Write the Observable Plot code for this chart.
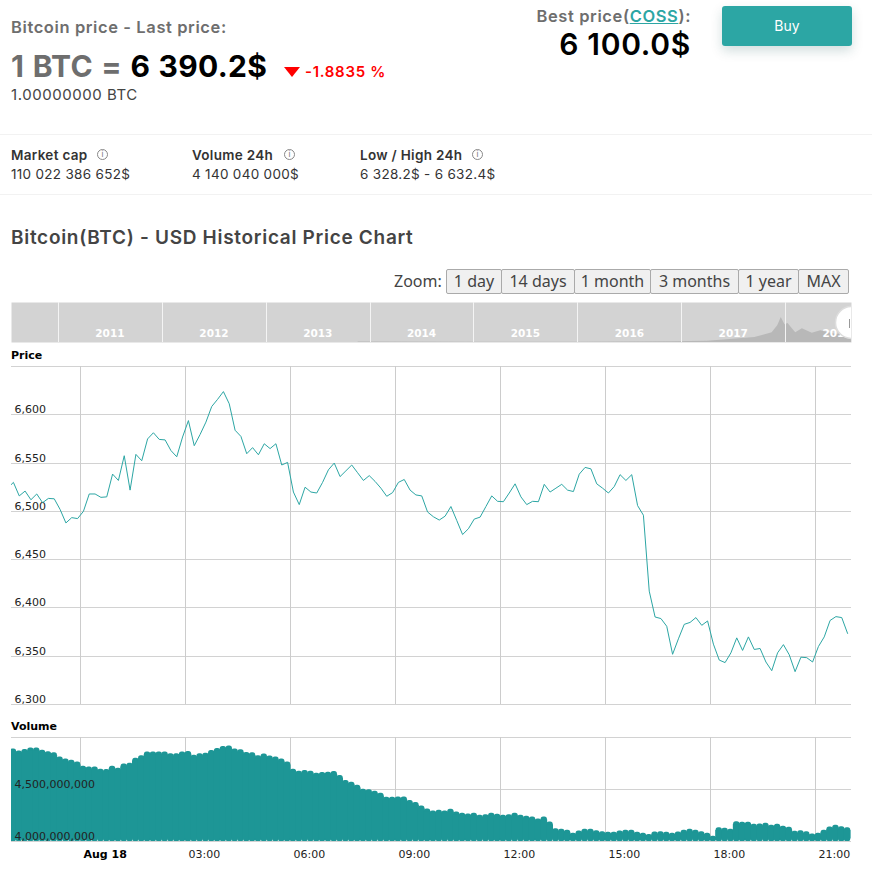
<!DOCTYPE html>
<html>
<head>
<meta charset="utf-8">
<script src="https://cdn.jsdelivr.net/npm/d3@7"></script>
<script src="https://cdn.jsdelivr.net/npm/@observablehq/plot@0.6"></script>
<style>
html,body{margin:0;padding:0;background:#fff;}
body{position:relative;width:872px;height:873px;overflow:hidden;font-family:Inter,"Noto Sans",sans-serif;}
.t{position:absolute;white-space:nowrap;line-height:1;}
.line{position:absolute;left:0;width:872px;height:1px;background:#f2f2f2;}
.lab{font-size:13.5px;font-weight:600;color:#333;letter-spacing:.3px;}
.val{font-size:13.5px;color:#333;letter-spacing:.3px;}
.info{position:absolute;width:9px;height:9px;border:1px solid #888;border-radius:50%;color:#777;font-size:8px;line-height:9px;text-align:center;}
.btn{position:absolute;top:269px;height:23px;box-sizing:content-box;border:1px solid #aaa;border-radius:2px;background:#f0f0f0;color:#444;font:16px/23px "Noto Sans",sans-serif;text-align:center;}
.plot{position:absolute;left:0;}
.tag{position:absolute;font:bold 11px "DejaVu Sans",sans-serif;color:#000;line-height:1;}
</style>
</head>
<body>
<div class="t" style="left:11px;top:19px;font-size:16.5px;font-weight:600;color:#6e6e6e;letter-spacing:.6px;">Bitcoin price - Last price:</div>
<div class="t" style="left:11px;top:51px;font-size:30px;font-weight:700;color:#6e6e6e;letter-spacing:.3px;word-spacing:1px;">1 BTC = <span style="color:#000">6 390.2$</span></div>
<div style="position:absolute;left:284px;top:67px;width:0;height:0;border-left:8px solid transparent;border-right:8px solid transparent;border-top:10px solid #f00;"></div>
<div class="t" style="left:305px;top:64px;font-size:15px;font-weight:600;color:#f00;letter-spacing:.7px;">-1.8835 %</div>
<div class="t" style="left:11px;top:87px;font-size:15px;color:#444;letter-spacing:.55px;">1.00000000 BTC</div>

<div class="t" style="right:181px;top:8px;font-size:16.5px;font-weight:600;color:#6e6e6e;letter-spacing:.6px;">Best price(<span style="color:#2ca6a4;text-decoration:underline">COSS</span>):</div>
<div class="t" style="right:181px;top:29px;font-size:30px;font-weight:600;color:#000;letter-spacing:.7px;">6 100.0$</div>
<div style="position:absolute;left:722px;top:6px;width:130px;height:40px;background:#2ca6a4;border-radius:3px;box-shadow:0 5px 12px rgba(0,70,70,.18);color:#fff;font-size:14px;line-height:40px;text-align:center;">Buy</div>

<div class="line" style="top:134px;"></div>
<div class="line" style="top:194px;"></div>
<div class="t lab" style="left:11px;top:149px;">Market cap</div><div class="info" style="left:97px;top:149px;">i</div>
<div class="t val" style="left:11px;top:168px;">110 022 386 652$</div>
<div class="t lab" style="left:192px;top:149px;">Volume 24h</div><div class="info" style="left:284px;top:149px;">i</div>
<div class="t val" style="left:192px;top:168px;">4 140 040 000$</div>
<div class="t lab" style="left:360px;top:149px;">Low / High 24h</div><div class="info" style="left:472px;top:149px;">i</div>
<div class="t val" style="left:360px;top:168px;">6 328.2$ - 6 632.4$</div>

<div class="t" style="left:11px;top:228px;font-size:19px;font-weight:600;color:#444;letter-spacing:.7px;">Bitcoin(BTC) - USD Historical Price Chart</div>

<div class="t" style="left:394px;top:273px;font:16px/1 'Noto Sans',sans-serif;color:#444;">Zoom:</div>
<div id="zoomButtons"></div>

<div id="nav" class="plot" style="top:302px"></div>
<div style="position:absolute;left:849px;top:319px;width:1px;height:9px;background:#999;"></div>
<div class="tag" style="left:11px;top:350px;">Price</div>
<div id="price" class="plot" style="top:360px"></div>
<div class="tag" style="left:11px;top:721px;">Volume</div>
<div id="volume" class="plot" style="top:730px"></div>

<script>
const zoomLabels = ["1 day","14 days","1 month","3 months","1 year","MAX"];
const zoomEdges = [446,501,574,650,738,798,848];

// Ten-minute samples, first one at 21:55 on 17 Aug 2018
const seriesStart = Date.UTC(2018,7,17,21,55);
const sampleMinutes = 10;

const priceValues = [
6524,6530,6516,6521,6512,6518,6509,6513.4,6513,6502,6488,6493.5,6492.5,6500,6518,6518,6514.5,6515,6538.6,6532,
6557.6,6522,6559,6552.4,6575,6581.4,6574.5,6574,6563,6556.5,6577,6594,6568,6579.6,6592.4,6608.6,6616,6624,6611.4,6584,
6577.6,6559.7,6566,6558.6,6570,6565,6570,6548,6550.7,6520,6507,6525,6520,6519,6530,6543,6550,6536,6542,6548,
6540,6532,6537,6531,6524,6515.6,6519.4,6530,6533,6522,6517,6516,6499.3,6494.4,6491,6495,6505,6490.6,6476,6482,
6492,6494,6505,6516,6510.4,6510,6519,6528.5,6515,6507,6510.4,6510,6528,6520,6524,6528,6522,6520.5,6538.5,6545.5,
6544,6528.5,6524,6519,6525.7,6538,6532,6538,6506,6496,6417.4,6390.6,6389,6381,6352,6368,6383,6385,6390,6382,
6386.5,6362.5,6346,6343.4,6353.5,6369,6356,6370,6357,6358,6344,6335,6353.5,6362,6351.5,6334,6349,6348.5,6344,6360,
6370,6387,6391,6390,6373.6
];

const volumeBillions = [
4.886,4.886,4.867,4.883,4.896,4.896,4.876,4.860,4.851,4.809,4.790,4.780,4.761,4.722,4.713,4.713,4.693,4.690,4.722,4.703,
4.742,4.751,4.799,4.822,4.857,4.857,4.857,4.857,4.841,4.841,4.857,4.864,4.828,4.841,4.847,4.873,4.892,4.912,4.915,4.886,
4.880,4.854,4.851,4.822,4.838,4.819,4.809,4.790,4.761,4.693,4.673,4.680,4.673,4.654,4.661,4.664,4.670,4.632,4.583,4.567,
4.539,4.500,4.494,4.481,4.461,4.423,4.423,4.426,4.426,4.391,4.372,4.339,4.311,4.291,4.298,4.291,4.307,4.282,4.269,4.262,
4.269,4.250,4.256,4.269,4.259,4.250,4.256,4.269,4.250,4.240,4.233,4.214,4.233,4.185,4.121,4.115,4.105,4.076,4.099,4.115,
4.115,4.102,4.092,4.086,4.086,4.099,4.105,4.105,4.086,4.076,4.066,4.089,4.092,4.086,4.076,4.089,4.105,4.115,4.105,4.092,
4.076,4.047,4.131,4.124,4.115,4.188,4.182,4.182,4.163,4.166,4.172,4.153,4.163,4.144,4.134,4.095,4.102,4.092,4.070,4.076,
4.105,4.137,4.153,4.140,4.131
];

const priceTicks = [6300,6350,6400,6450,6500,6550,6600,6650];
const priceLabelTicks = [6300,6350,6400,6450,6500,6550,6600];
const volumeTicks = [4e9,4.5e9,5e9];
const hourTicks = [0,3,6,9,12,15,18,21];

const navYears = [2011,2012,2013,2014,2015,2016,2017,2018];
const navHistoryDates = ["2013-11-20","2014-01-01","2015-01-01","2016-01-01","2016-12-01","2017-04-01","2017-07-01","2017-09-15","2017-10-15","2017-11-15","2017-12-05","2017-12-17","2017-12-30","2018-01-10","2018-01-25","2018-02-06","2018-03-01","2018-04-05","2018-05-05","2018-06-25","2018-08-21"];
const navHistoryPrices = [300,400,150,250,500,900,2500,3800,5500,7500,13000,19000,13500,14500,10500,7500,10500,7000,9000,6300,6400];

const teal = "#2ca6a4", volumeTeal = "#1d9696", gridH = "#d2d2d2", gridV = "#cccccc";
const dayDomain = [new Date(Date.UTC(2018,7,17,22,1,43)), new Date(Date.UTC(2018,7,18,22,1,43))];
const hourDate = h => new Date(Date.UTC(2018,7,18,h));
const times = priceValues.map((_, i) => new Date(seriesStart + i*sampleMinutes*60000));
const priceData = priceValues.map((v, i) => ({t: times[i], v}));
const volumeData = volumeBillions.map((v, i) => ({
  a: new Date(+times[i] - sampleMinutes*30000),
  b: new Date(+times[i] + sampleMinutes*30000),
  v: v*1e9
}));
const baseStyle = {fontFamily:"'DejaVu Sans',sans-serif", fontSize:"11px", background:"transparent", overflow:"visible", display:"block"};

// Zoom buttons
const bh = document.getElementById("zoomButtons");
zoomLabels.forEach((l,i)=>{
  const d=document.createElement("div");d.className="btn";d.textContent=l;
  d.style.left=zoomEdges[i]+"px";d.style.width=(zoomEdges[i+1]-zoomEdges[i]-1)+"px";bh.appendChild(d);
});

// Navigator
const navData = navHistoryDates.map((d,i)=>({t:new Date(d+"T00:00Z"), v:navHistoryPrices[i]}));
document.getElementById("nav").appendChild(Plot.plot({
  width:872,height:40,marginLeft:11,marginRight:21,marginTop:0,marginBottom:0,style:baseStyle,
  x:{type:"utc",domain:[new Date(Date.UTC(2010,6,20)),new Date(Date.UTC(2018,7,21))],axis:null},
  y:{domain:[0,30400],axis:null},
  marks:[
    Plot.frame({fill:"#d3d3d3",stroke:null}),
    Plot.areaY(navData,{x:"t",y:"v",fill:"#b8b8b8",clip:true}),
    Plot.ruleX(navYears.map(y=>new Date(Date.UTC(y,0,1))),{stroke:"#f4f4f4",shapeRendering:"crispEdges"}),
    Plot.text(navYears,{x:y=>new Date(Date.UTC(y,6,1)),frameAnchor:"bottom",dy:-6,text:y=>String(y),fill:"#fff",fontWeight:"bold",fontSize:10.5,clip:true}),
    Plot.dot([0],{frameAnchor:"right",r:16,fill:"#fff",stroke:"#ddd",clip:true})
  ]
}));

// Price panel
document.getElementById("price").appendChild(Plot.plot({
  width:872,height:350,marginLeft:11,marginRight:21,marginTop:6,marginBottom:6,style:baseStyle,
  x:{type:"utc",domain:dayDomain,axis:null},
  y:{domain:[6300,6650],axis:null},
  marks:[
    Plot.ruleY(priceTicks,{stroke:gridH,shapeRendering:"crispEdges"}),
    Plot.ruleX(hourTicks.map(hourDate),{stroke:gridV,shapeRendering:"crispEdges"}),
    Plot.axisY({ticks:priceLabelTicks,tickSize:0,tickPadding:0,textAnchor:"start",dx:3,dy:-5,tickFormat:d3.format(","),label:null,fill:"#222",marginLeft:11}),
    Plot.line(priceData,{x:"t",y:"v",stroke:teal,strokeWidth:1,clip:true})
  ]
}));

// Volume panel
document.getElementById("volume").appendChild(Plot.plot({
  width:872,height:143,marginLeft:11,marginRight:21,marginTop:7,marginBottom:32,style:baseStyle,
  x:{type:"utc",domain:dayDomain},
  y:{domain:[4e9,5e9],axis:null},
  marks:[
    Plot.ruleY(volumeTicks,{stroke:gridH,shapeRendering:"crispEdges"}),
    Plot.ruleX(hourTicks.map(hourDate),{stroke:gridV,shapeRendering:"crispEdges"}),
    Plot.rectY(volumeData,{x1:"a",x2:"b",y1:4e9,y2:"v",fill:volumeTeal,rx:2.5,inset:-0.25,clip:true}),
    // Solid core behind the rounded column ends, so that no seams show between columns
    Plot.rectY(volumeData,{x1:"a",x2:"b",y1:4.03e9,y2:d=>d.v-0.03e9,fill:volumeTeal,inset:-0.5,clip:true}),
    Plot.axisY({ticks:[4e9,4.5e9],tickSize:0,tickPadding:0,textAnchor:"start",dx:3,dy:-5,tickFormat:d3.format(","),label:null,fill:"#222",marginLeft:11}),
    Plot.axisX({ticks:[hourDate(0)],tickSize:0,tickPadding:9,textAnchor:"start",dx:3,label:null,fontWeight:"bold",fill:"#000",tickFormat:()=>"Aug 18"}),
    Plot.axisX({ticks:hourTicks.slice(1).map(hourDate),tickSize:0,tickPadding:9,textAnchor:"start",dx:3,label:null,fill:"#222",tickFormat:d3.utcFormat("%H:%M")})
  ]
}));
</script>
</body>
</html>
